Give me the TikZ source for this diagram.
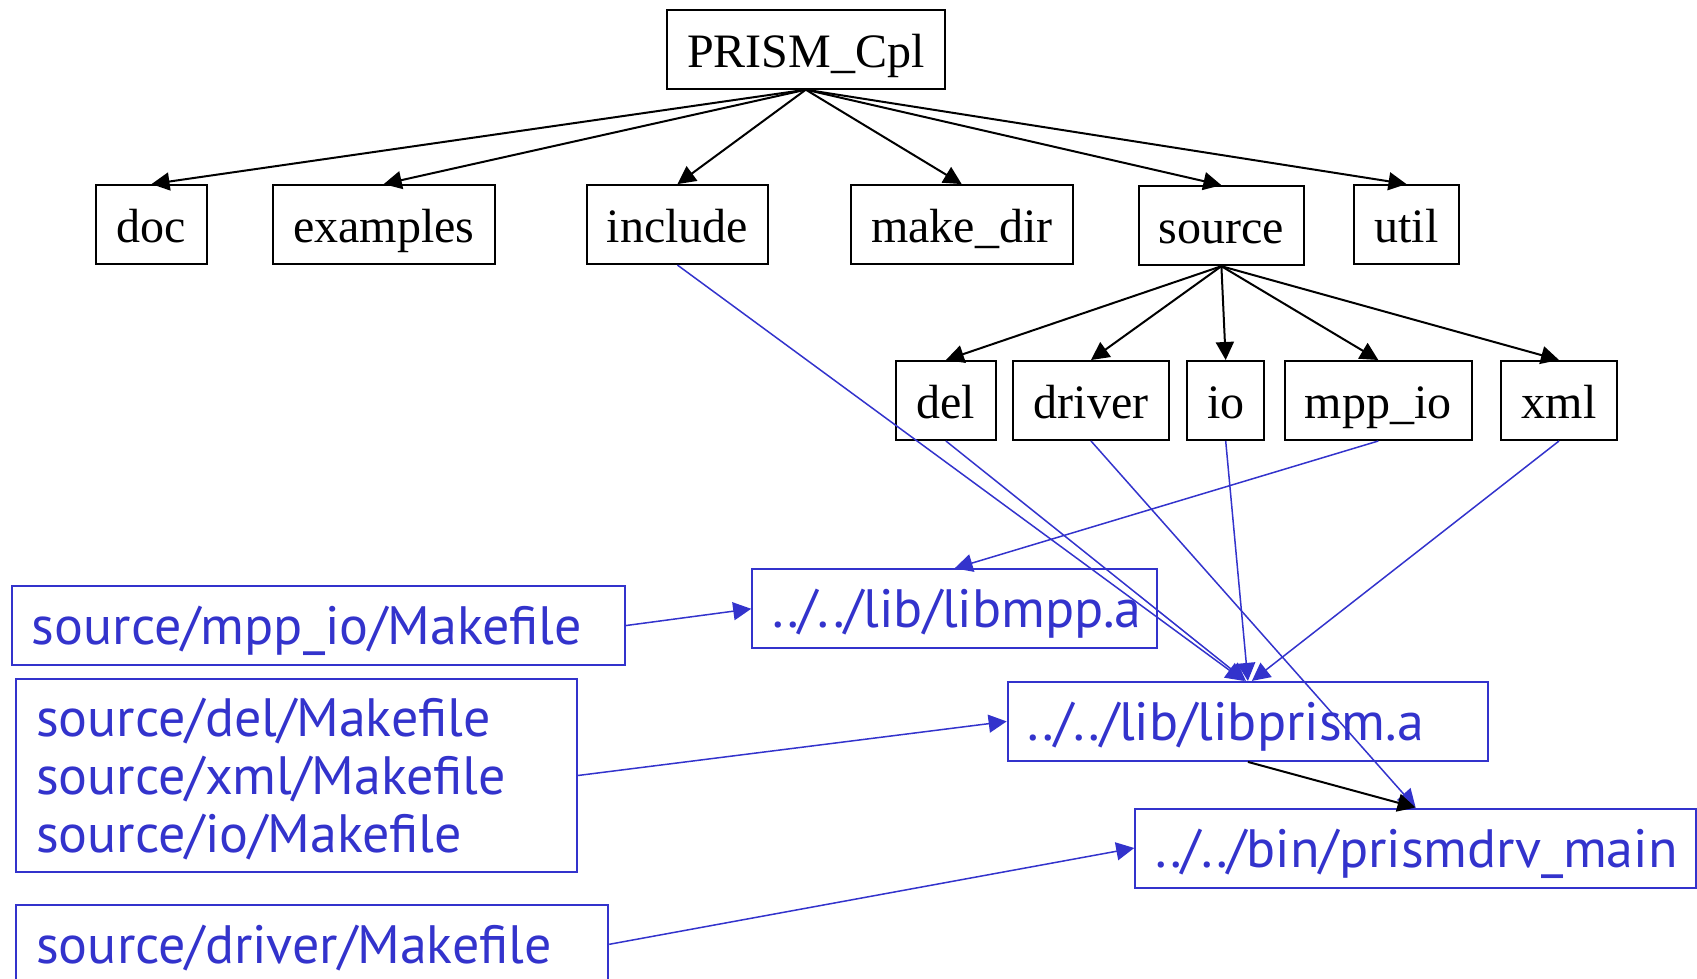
\documentclass[tikz,border=0pt]{standalone}
\usepackage{fontspec}
\setmainfont{Liberation Serif}
\newfontfamily\mkfont{PT Sans}
\newcommand\mkset{\mkfont\fontsize{27}{29}\selectfont\hyphenpenalty=10000\relax}
\usetikzlibrary{arrows.meta}
\definecolor{mkblue}{RGB}{51,51,204}

\begin{document}
\begin{tikzpicture}[x=0.5pt,y=-0.5pt,
		Dir/.style={draw, line width=1pt, inner sep=0pt, minimum height=39.5pt, text height=18pt, text depth=0pt,
			font=\fontsize{24}{28}\selectfont},
		Target/.style={draw=mkblue, text=mkblue, line width=1pt, inner xsep=10pt, inner ysep=0pt, align=left,
			minimum height=39.5pt, text height=19pt, text depth=0pt, font=\mkset},
		Tree/.style={-{Triangle[length=9pt,width=9pt]}, line width=1pt},
		Link/.style={-{Triangle[length=9pt,width=9pt]}, mkblue, line width=0.75pt}
			]
	\useasboundingbox (0,0) rectangle (1697,979);
	\begin{scope}
	\clip (0,0) rectangle (1697,979);
	% directory tree
	\node[Dir, minimum width=139pt] (prism) at (805.8,49.2) {PRISM\_Cpl};
	\node[Dir, minimum width=55.2pt] (doc) at (151.5,224.6) {doc};
	\node[Dir, minimum width=111pt] (examples) at (383.7,224.6) {examples};
	\node[Dir, minimum width=90.9pt] (include) at (677.5,224.6) {include};
	\node[Dir, minimum width=111pt] (makedir) at (961.7,224.6) {make\_dir};
	\node[Dir, minimum width=82.8pt] (source) at (1221.4,225.7) {source};
	\node[Dir, minimum width=52.5pt] (util) at (1406.5,224.6) {util};
	\node[Dir, minimum width=49.8pt] (del) at (945.9,400.5) {del};
	\node[Dir, minimum width=78pt] (driver) at (1091,400.5) {driver};
	\node[Dir, minimum width=38.4pt] (io) at (1225.7,400.5) {io};
	\node[Dir, minimum width=93.6pt] (mppio) at (1378.3,400.5) {mpp\_io};
	\node[Dir, minimum width=57.9pt] (xml) at (1559,400.5) {xml};

	% targets and makefiles
	\node[Target, text width=182.4pt] (libmpp) at (954.6,608.8) {../../lib/libmpp.a};
	\node[Target, text width=220.25pt] (libprism) at (1247.9,721.4) {../../lib/libprism.a};
	\node[Target, text width=260.35pt] (main) at (1415.6,848) {../../bin/prismdrv\_main};
	\node[Target, text width=286.3pt] (mppmake) at (318.2,625.6) {source/mpp\_io/Makefile};
	\node[Target, text width=260.35pt, text depth=58pt, minimum height=96.85pt] (delmake) at (296.5,775.5)
		{source/del/Makefile\\source/xml/Makefile\\source/io/Makefile};
	\node[Target, text width=276pt] (drvmake) at (312.25,944.3) {source/driver/Makefile};

	\foreach \d in {doc,examples,include,makedir,source,util}
		\draw[Tree] (prism.south) -- (\d.north);
	\foreach \d in {del,driver,io,mppio,xml}
		\draw[Tree] (source.south) -- (\d.north);

	\draw[Link] (include.south) -- ([xshift=-2pt]libprism.north);
	\draw[Link] (del.south) -- ([xshift=-1pt]libprism.north);
	\draw[Link] (io.south) -- (libprism.north);
	\draw[Link] (xml.south) -- ([xshift=2pt]libprism.north);
	\draw[Link] (driver.south) -- (main.north);
	\draw[Link] (mppio.south) -- (libmpp.north);
	\draw[Tree] (libprism.south) -- (main.north);
	\draw[Link] (mppmake.east) -- (libmpp.west);
	\draw[Link] (delmake.east) -- (libprism.west);
	\draw[Link] (drvmake.east) -- (main.west);
	\end{scope}
\end{tikzpicture}
\end{document}
